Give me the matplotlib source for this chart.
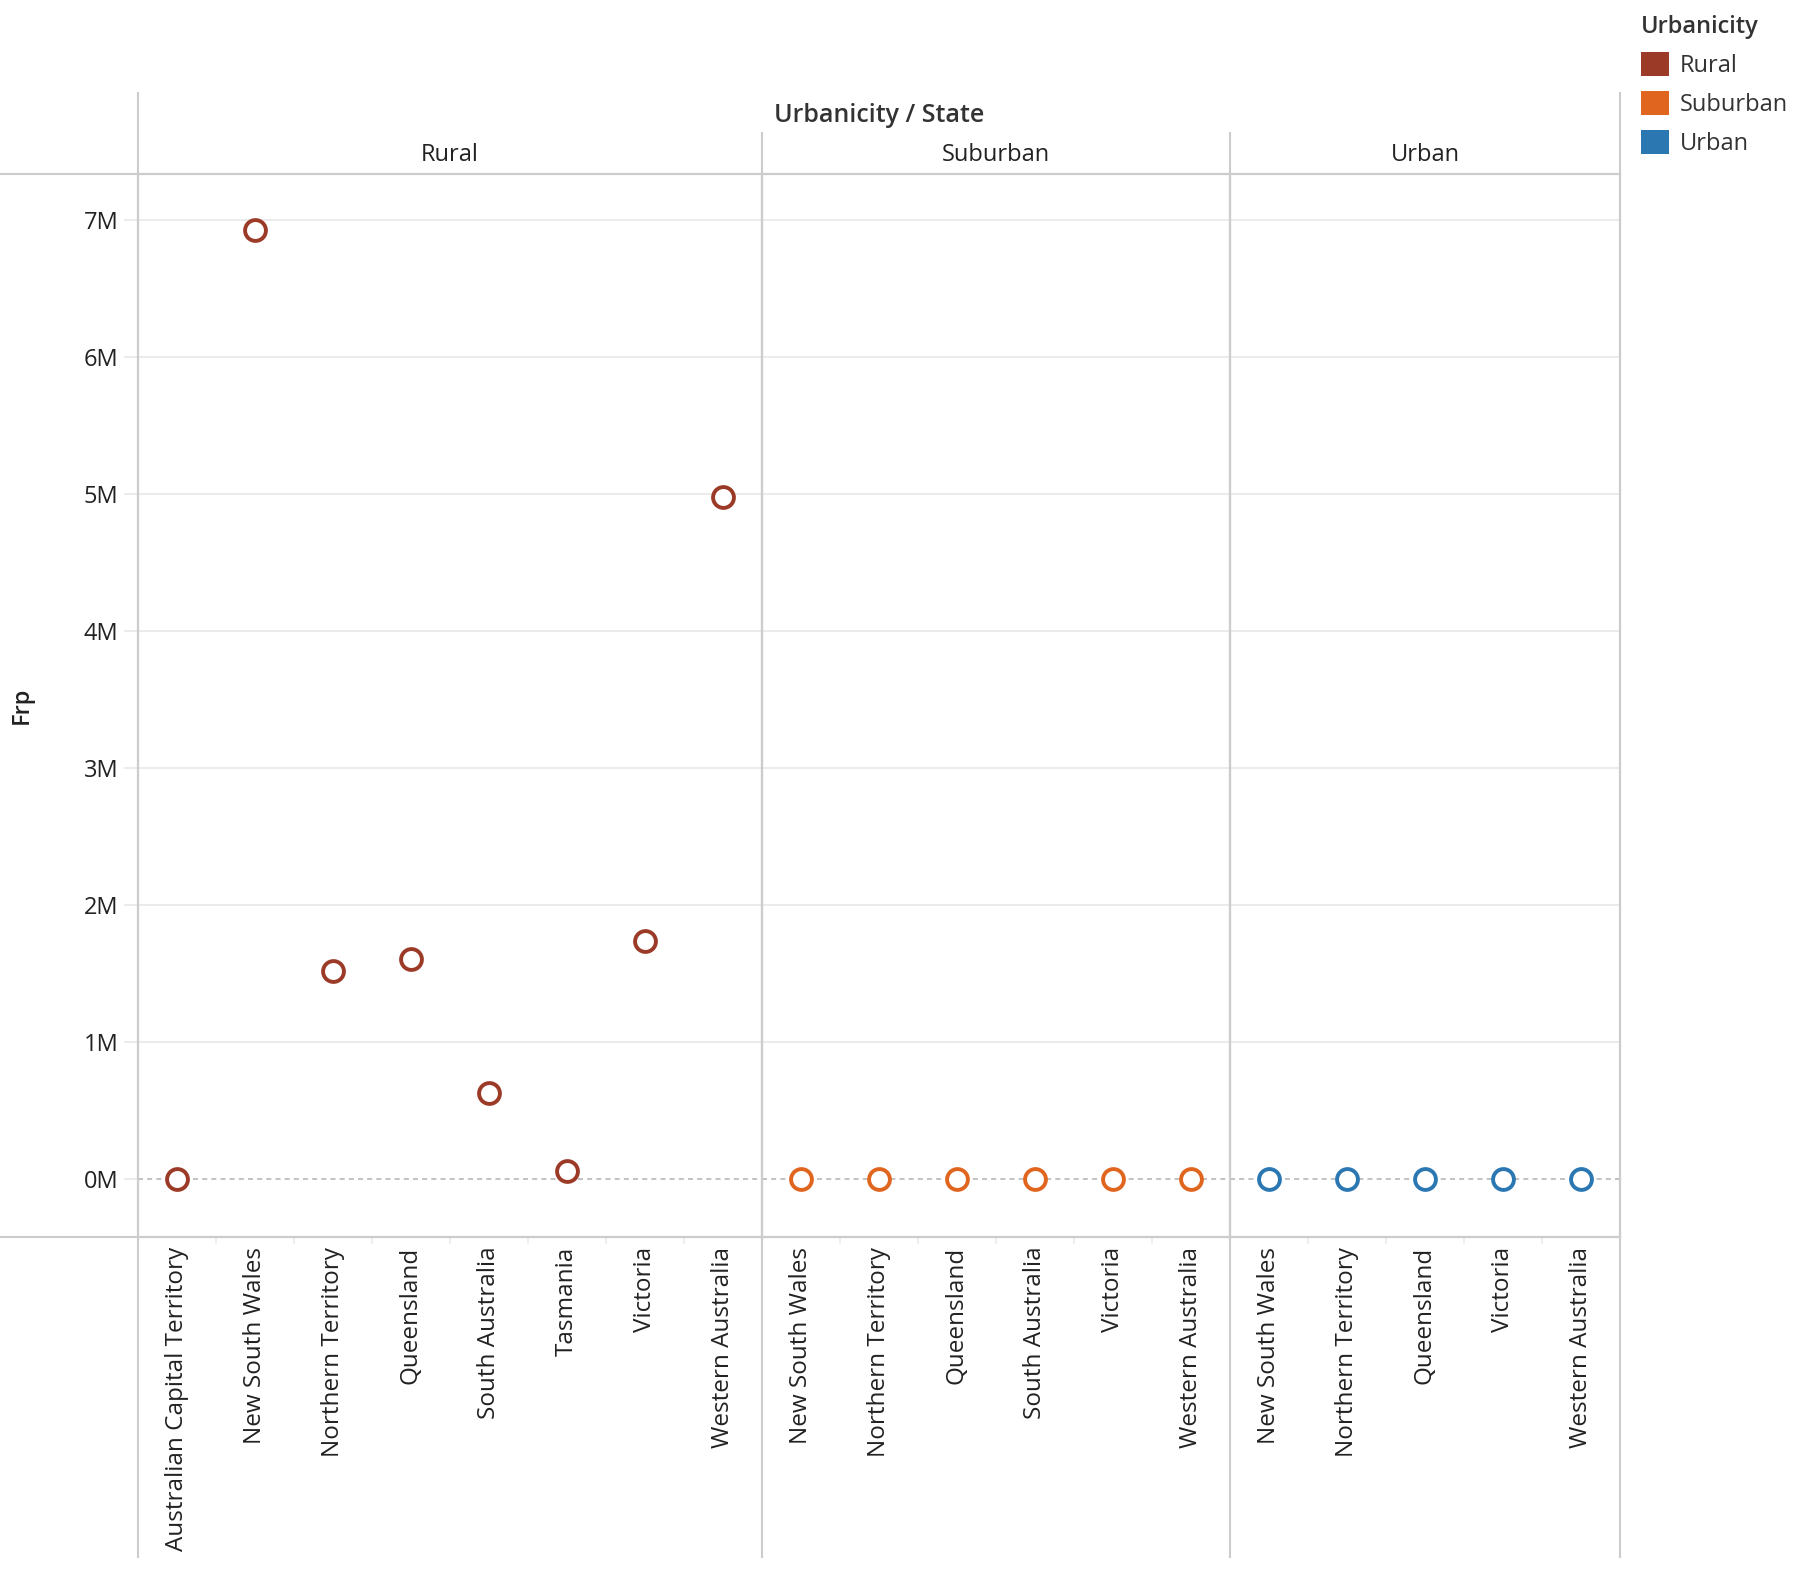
import matplotlib.pyplot as plt
from matplotlib.lines import Line2D
from matplotlib.patches import Patch
from matplotlib.ticker import FixedLocator, FuncFormatter

plt.rcParams['font.family'] = ['Open Sans', 'DejaVu Sans']

# data (Frp, in units)
groups = ['Rural', 'Suburban', 'Urban']
rural_states = ['Australian Capital Territory', 'New South Wales', 'Northern Territory',
                'Queensland', 'South Australia', 'Tasmania', 'Victoria', 'Western Australia']
rural_frp = [3000, 6930000, 1518000, 1606000, 628000, 59000, 1737000, 4976000]
suburban_states = ['New South Wales', 'Northern Territory', 'Queensland',
                   'South Australia', 'Victoria', 'Western Australia']
suburban_frp = [500, 300, 400, 300, 500, 400]
urban_states = ['New South Wales', 'Northern Territory', 'Queensland', 'Victoria', 'Western Australia']
urban_frp = [200, 100, 200, 200, 100]
colors = {'Rural': '#9c3a28', 'Suburban': '#e06620', 'Urban': '#2a77b2'}
y_ticks = [0, 1e6, 2e6, 3e6, 4e6, 5e6, 6e6, 7e6]

W, H = 1807, 1577
fig = plt.figure(figsize=(W / 100, H / 100), dpi=100)

def fx(px):
    return px / W

def fy(py):
    return 1 - py / H

line_c = '#cccccc'
text_c = '#333333'
col_w = 78
left, top, bottom = 138, 174, 1237
y0_px, px_per_m = 1179, 137.0
ymin = -(bottom - y0_px) / px_per_m * 1e6
ymax = (y0_px - top) / px_per_m * 1e6

panels = [('Rural', rural_states, rural_frp),
          ('Suburban', suburban_states, suburban_frp),
          ('Urban', urban_states, urban_frp)]

x_px = left
axes = []
for i, (name, states, vals) in enumerate(panels):
    w = col_w * len(states)
    ax = fig.add_axes([fx(x_px), fy(bottom), fx(w), (bottom - top) / H])
    ax.set_xlim(-0.5, len(states) - 0.5)
    ax.set_ylim(ymin, ymax)
    ax.yaxis.set_major_locator(FixedLocator([t for t in y_ticks if t != 0]))
    ax.yaxis.set_minor_locator(FixedLocator([0]))
    ax.grid(axis='y', which='major', color='#ebebeb', linewidth=1.4)
    ax.set_axisbelow(True)
    ax.axhline(0, color='#b8b8b8', linewidth=1.2, linestyle=(0, (3, 2.5)), zorder=2)
    ax.plot(range(len(states)), vals, linestyle='none', marker='o', markersize=15,
            markerfacecolor='white', markeredgecolor=colors[name], markeredgewidth=2.8,
            zorder=3, clip_on=False)
    ax.set_xticks(range(len(states)))
    ax.set_xticklabels(states, rotation=90, va='top', ha='center', fontsize=17.5,
                       color='#222222')
    ax.set_xticks([k + 0.5 for k in range(len(states) - 1)], minor=True)
    ax.tick_params(axis='x', which='major', length=0, pad=7)
    ax.tick_params(axis='x', which='minor', length=5, color='#ebebeb', width=1.2)
    for s in ax.spines.values():
        s.set_color(line_c)
        s.set_linewidth(1.5)
    if i == 0:
        fmt = FuncFormatter(lambda v, p: f'{v / 1e6:.0f}M')
        ax.yaxis.set_major_formatter(fmt)
        ax.yaxis.set_minor_formatter(fmt)
        ax.tick_params(axis='y', which='both', length=10, color='#ebebeb', width=1.4,
                       pad=4, labelsize=17, labelcolor='#222222')
    else:
        ax.tick_params(axis='y', which='both', left=False, labelleft=False)
    ax.set_facecolor('none')
    # pane header
    fig.text(fx(x_px + w / 2), fy(155), name, ha='center', va='center',
             fontsize=17, color='#222222')
    axes.append((x_px, w))
    x_px += w

right = x_px

# header / frame lines
fig.add_artist(Line2D([fx(left), fx(left)], [fy(93), fy(1557)], color=line_c, lw=1.5))
fig.add_artist(Line2D([fx(right), fx(right)], [fy(93), fy(1557)], color=line_c, lw=1.5))
for xp, w in axes[1:]:
    fig.add_artist(Line2D([fx(xp), fx(xp)], [fy(133), fy(1557)], color=line_c, lw=1.5))
fig.add_artist(Line2D([0, fx(right)], [fy(top), fy(top)], color=line_c, lw=1.5))
fig.add_artist(Line2D([0, fx(right)], [fy(bottom), fy(bottom)], color=line_c, lw=1.5))

fig.text(fx((left + right) / 2), fy(115), 'Urbanicity / State', ha='center', va='center',
         fontsize=18, fontweight='semibold', color=text_c)
fig.text(fx(22), fy((top + bottom) / 2), 'Frp', rotation=90, ha='center', va='center',
         fontsize=17, fontweight='semibold', color='#222222')

handles = [Patch(facecolor=colors[g], edgecolor='none', label=g) for g in groups]
leg = fig.legend(handles=handles, title='Urbanicity', loc='upper left',
                 bbox_to_anchor=(fx(1634), fy(8)), frameon=False, fontsize=17,
                 title_fontproperties={'size': 17, 'weight': 'semibold'},
                 handlelength=1.2, handleheight=1.2, handletextpad=0.45,
                 labelspacing=0.55, borderaxespad=0, borderpad=0.3)
leg._legend_box.align = 'left'
for t in leg.get_texts():
    t.set_color(text_c)
leg.get_title().set_color(text_c)

fig.savefig('out.png', dpi=100, facecolor='white')
